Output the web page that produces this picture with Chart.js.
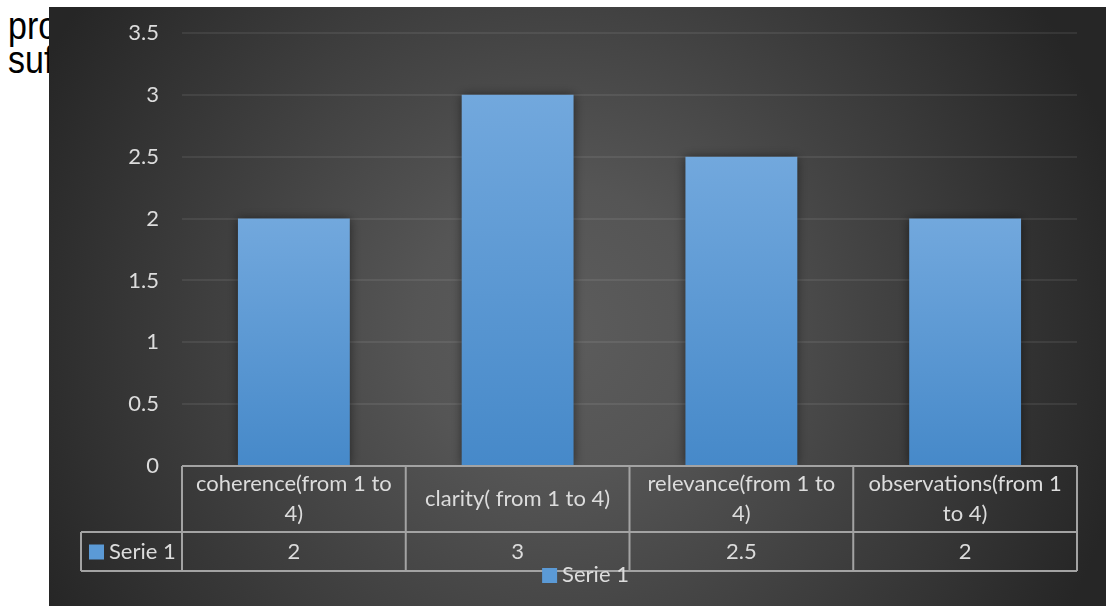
<!DOCTYPE html>
<html lang="en">
<head>
<meta charset="UTF-8">
<title>Serie 1</title>
<script src="https://cdn.jsdelivr.net/npm/chart.js"></script>
<style>
  body {
    margin: 0;
    width: 1106px;
    height: 606px;
    overflow: hidden;
    position: relative;
    background: #fff;
  }
  .doc {
    position: absolute;
    left: 8px;
    top: 9px;
    font-family: "Liberation Sans", Arial, sans-serif;
    font-size: 34px;
    line-height: 30px;
    color: #000;
    transform: scaleY(1.12);
    transform-origin: left top;
  }
  .box {
    position: absolute;
    left: 49px;
    top: 7px;
    width: 1057px;
    height: 599px;
  }
</style>
</head>
<body>
<div class="doc">pro<br>suf</div>
<div class="box"><canvas id="myChart"></canvas></div>

<script>
// chart data
const categories = [
  ['coherence(from 1 to', '4)'],
  ['clarity( from 1 to 4)'],
  ['relevance(from 1 to', '4)'],
  ['observations(from 1', 'to 4)']
];
const seriesName = 'Serie 1';
const serie1 = [2, 3, 2.5, 2];
const yTicks = [0, 0.5, 1, 1.5, 2, 2.5, 3, 3.5];

const textColor = '#dcdcdc';
const lineColor = '#a3a3a3';
const keyColor = '#5b9ad6';
const font = 'Lato, "Open Sans", sans-serif';

// dark radial backdrop
const backdrop = {
  id: 'backdrop',
  beforeDraw(chart) {
    const { ctx, width, height } = chart;
    const g = ctx.createRadialGradient(511, 323, 0, 511, 323, 580);
    g.addColorStop(0, '#5c5c5c');
    g.addColorStop(0.25, '#555555');
    g.addColorStop(1, '#262626');
    ctx.save();
    ctx.fillStyle = g;
    ctx.fillRect(0, 0, width, height);
    ctx.restore();
  }
};

// soft shadow around the bars
const barShadow = {
  id: 'barShadow',
  beforeDatasetsDraw(chart) {
    const c = chart.ctx;
    c.save();
    c.shadowColor = 'rgba(0,0,0,0.5)';
    c.shadowBlur = 10;
    c.shadowOffsetX = 0;
    c.shadowOffsetY = 0;
  },
  afterDatasetsDraw(chart) {
    chart.ctx.restore();
  }
};

// data table under the plot plus the bottom legend
const dataTable = {
  id: 'dataTable',
  afterDraw(chart) {
    const { ctx, chartArea, scales: { x, y } } = chart;
    const top = y.getPixelForValue(0);
    const row1 = top + 66;
    const row2 = row1 + 39;
    const half = (x.getPixelForValue(1) - x.getPixelForValue(0)) / 2;
    const left = chartArea.left;
    const right = chartArea.right;
    const keyLeft = left - 101;

    ctx.save();
    ctx.strokeStyle = lineColor;
    ctx.lineWidth = 2;
    ctx.beginPath();
    ctx.moveTo(left, top); ctx.lineTo(right, top);
    ctx.moveTo(keyLeft, row1); ctx.lineTo(right, row1);
    ctx.moveTo(keyLeft, row2); ctx.lineTo(right, row2);
    ctx.moveTo(keyLeft, row1); ctx.lineTo(keyLeft, row2);
    categories.forEach((c, i) => {
      const cx = x.getPixelForValue(i);
      ctx.moveTo(cx - half, top);
      ctx.lineTo(cx - half, row2);
    });
    ctx.moveTo(right, top); ctx.lineTo(right, row2);
    ctx.stroke();

    ctx.fillStyle = textColor;
    ctx.font = '22px ' + font;
    ctx.textAlign = 'center';
    ctx.textBaseline = 'middle';
    const lh = 30;
    categories.forEach((lines, i) => {
      const cx = x.getPixelForValue(i);
      const y0 = (top + row1) / 2 - (lines.length - 1) * lh / 2;
      lines.forEach((t, k) => ctx.fillText(t, cx, y0 + k * lh));
      ctx.fillText(String(serie1[i]), cx, (row1 + row2) / 2);
    });

    // series key inside the table
    const mid = (row1 + row2) / 2;
    ctx.fillStyle = keyColor;
    ctx.fillRect(keyLeft + 8, mid - 7, 15, 15);
    ctx.fillStyle = textColor;
    ctx.textAlign = 'left';
    ctx.fillText(seriesName, keyLeft + 28, mid);

    // legend below the table
    const lw = ctx.measureText(seriesName).width;
    const lx = chart.width / 2 - (20 + lw) / 2 + 8;
    const ly = row2 + 4;
    ctx.fillStyle = keyColor;
    ctx.fillRect(lx, ly - 7, 15, 15);
    ctx.fillStyle = textColor;
    ctx.fillText(seriesName, lx + 20, ly);
    ctx.restore();
  }
};

function barFill(context) {
  const chart = context.chart;
  const y = chart.scales && chart.scales.y;
  if (!chart.chartArea || !y) return keyColor;
  const v = serie1[context.dataIndex];
  const g = chart.ctx.createLinearGradient(0, y.getPixelForValue(v), 0, y.getPixelForValue(0));
  g.addColorStop(0, '#72a8dd');
  g.addColorStop(1, '#4689c9');
  return g;
}

const ctx = document.getElementById('myChart').getContext('2d');
const myChart = new Chart(ctx, {
  type: 'bar',
  data: {
    labels: categories,
    datasets: [{
      label: seriesName,
      data: serie1,
      backgroundColor: barFill,
      borderWidth: 0,
      barPercentage: 0.5,
      categoryPercentage: 1
    }]
  },
  options: {
    responsive: true,
    maintainAspectRatio: false,
    animation: false,
    layout: {
      padding: { left: 0, right: 29, top: 26, bottom: 140 }
    },
    plugins: {
      legend: { display: false },
      tooltip: { enabled: false }
    },
    scales: {
      x: {
        display: false
      },
      y: {
        min: yTicks[0],
        max: yTicks[yTicks.length - 1],
        afterFit(scale) {
          scale.width = 133;
          // labels sit inside the layout padding
          scale.paddingTop = 0;
          scale.paddingBottom = 0;
        },
        border: { display: false },
        grid: {
          color: 'rgba(255,255,255,0.075)',
          lineWidth: 2,
          drawTicks: false
        },
        ticks: {
          stepSize: yTicks[1] - yTicks[0],
          padding: 23,
          color: textColor,
          font: { family: font, size: 22 },
          callback: (value) => String(value)
        }
      }
    }
  },
  plugins: [backdrop, barShadow, dataTable]
});
</script>
</body>
</html>
